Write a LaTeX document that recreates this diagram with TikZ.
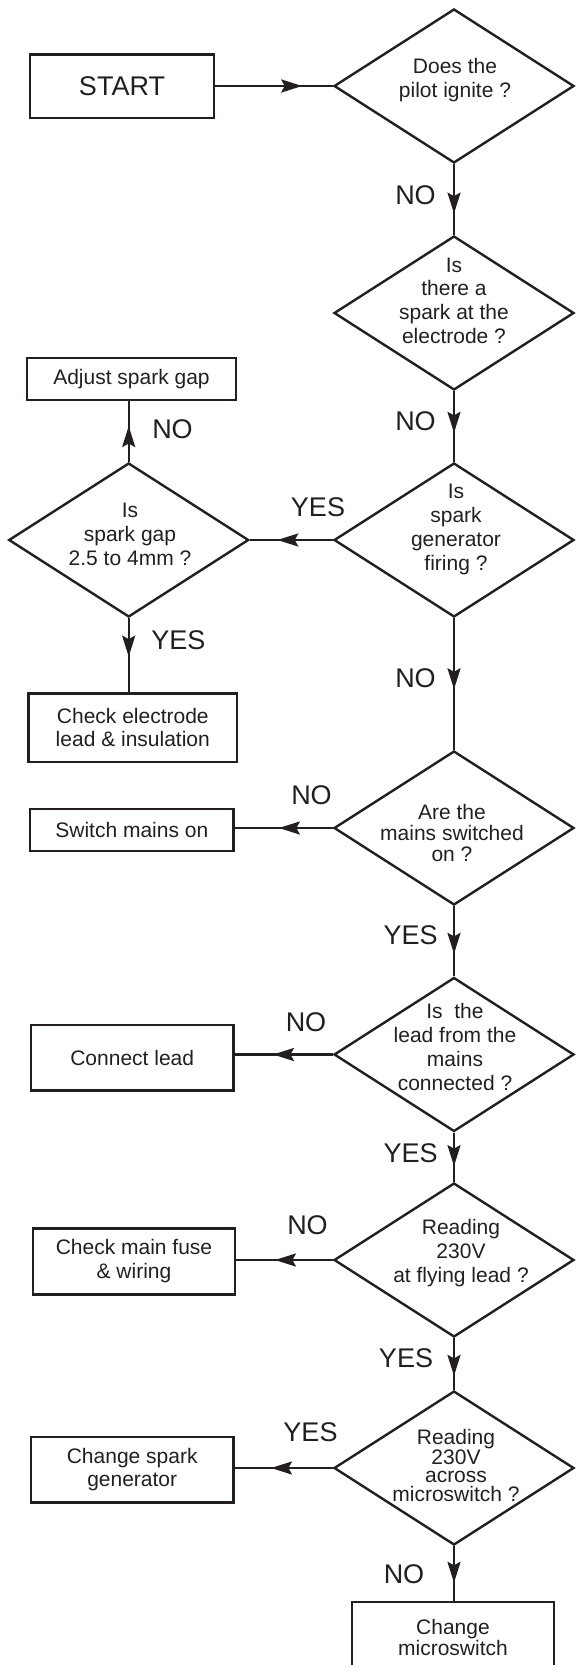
\documentclass[tikz,border=0pt]{standalone}
\usepackage{fontspec}
\setmainfont{Liberation Sans}
\usetikzlibrary{shapes.geometric,arrows.meta,decorations.markings}
\definecolor{ink}{HTML}{231F20}
\begin{document}
\begin{tikzpicture}[x=1pt,y=-1pt,line width=2.4pt,color=ink,
  box/.style={draw,rectangle,inner sep=0pt,align=center,font=\fontsize{21}{23.7}\selectfont},
  dia/.style={draw,diamond,minimum width=240pt,minimum height=154pt,inner sep=0pt},
  qtext/.style={inner sep=0pt,align=center,font=\fontsize{21}{#1}\selectfont},
  qtext/.default=23.7,
  lbl/.style={inner sep=0pt,font=\fontsize{27}{30}\selectfont},
  midarr/.style={postaction={decorate},decoration={markings,
     mark=at position #1 with {\arrow{Stealth[length=21pt,width=13pt,inset=3.5pt]}}}}]
\useasboundingbox (0,0) rectangle (576,1665);

% boxes
\node[box,minimum width=184pt,minimum height=63.4pt,font=\fontsize{27}{30}\selectfont] (start) at (122,86) {START};
\node[box,minimum width=209pt,minimum height=42pt] (adjust) at (131.5,379) {Adjust spark gap};
\node[box,minimum width=208.3pt,minimum height=68.4pt] (check) at (132.8,727.5) {Check electrode\\lead \& insulation};
\node[box,minimum width=203.5pt,minimum height=41.7pt] (sw) at (131.8,830) {Switch mains on};
\node[box,minimum width=202.5pt,minimum height=65.7pt] (conn) at (132.2,1057.8) {Connect lead};
\node[box,minimum width=202.3pt,minimum height=66pt] (fuse) at (134,1261.3) {Check main fuse\\\& wiring};
\node[box,minimum width=202.5pt,minimum height=65.6pt] (gen) at (132.2,1469.5) {Change spark\\generator};
\node[box,minimum width=202pt,minimum height=70pt,font=\fontsize{21}{21}\selectfont] (micro) at (453,1637) {Change\\microswitch};

% diamonds
\node[dia] (d1) at (454,86) {};
\node[dia] (d2) at (454,313) {};
\node[dia] (d3) at (454,540) {};
\node[dia] (d4) at (128.7,540) {};
\node[dia] (d5) at (454,828) {};
\node[dia] (d6) at (454,1054.5) {};
\node[dia] (d7) at (454,1260) {};
\node[dia] (d8) at (454,1468) {};

% diamond texts
\node[qtext] (t1) at (455,80) {Does the\\pilot ignite ?};
\node[qtext] (t2) at (454,300.5) {Is\\there a\\spark at the\\electrode ?};
\node[qtext=24] (t3) at (456,529) {Is\\spark\\generator\\firing ?};
\node[qtext=24] (t4) at (130,534) {Is\\spark gap\\2.5 to 4mm ?};
\node[qtext=21] (t5) at (452,832.6) {Are the\\mains switched\\on ?};
\node[qtext=24.2] (t6) at (455,1047) {Is\ \ the\\lead from the\\mains\\connected ?};
\node[qtext=24] (t7) at (461,1253) {Reading\\230V\\at flying lead ?};
\node[qtext=18.5] (t8) at (456,1465) {Reading\\230V\\across\\microswitch ?};

% connectors
\draw[midarr=0.74] (start.east) -- (d1.west);
\draw[midarr=0.70] (d1.south) -- (d2.north);
\draw[midarr=0.59] (d2.south) -- (d3.north);
\draw[midarr=0.67] (d3.west) -- (d4.east);
\draw[midarr=0.59] (d4.north) -- (d4.north |- adjust.south);
\draw[midarr=0.52] (d4.south) -- (d4.south |- check.north);
\draw[midarr=0.54] (d3.south) -- (d5.north);
\draw[midarr=0.55] (d5.west) -- (d5.west -| sw.east);
\draw[midarr=0.68] (d5.south) -- (d6.north);
\draw[midarr=0.61] (d6.west) -- (d6.west -| conn.east);
\draw[midarr=0.68] (d6.south) -- (d7.north);
\draw[midarr=0.60] (d7.west) -- (d7.west -| fuse.east);
\draw[midarr=0.73] (d7.south) -- (d8.north);
\draw[midarr=0.63] (d8.west) -- (d8.west -| gen.east);
\draw[midarr=0.67] (d8.south) -- (d8.south |- micro.north);

% labels
\node[lbl] (l1) at (415.5,195) {NO};
\node[lbl] (l2) at (415.5,421) {NO};
\node[lbl] (l3) at (172.5,429) {NO};
\node[lbl] (l4) at (318,506.7) {YES};
\node[lbl] (l5) at (178.3,640) {YES};
\node[lbl] (l6) at (415.5,678.3) {NO};
\node[lbl] (l7) at (311.5,795) {NO};
\node[lbl] (l8) at (410.7,935) {YES};
\node[lbl] (l9) at (306,1021.7) {NO};
\node[lbl] (l10) at (410.7,1153.3) {YES};
\node[lbl] (l11) at (307.5,1225) {NO};
\node[lbl] (l12) at (406,1358.3) {YES};
\node[lbl] (l13) at (310.5,1431.7) {YES};
\node[lbl] (l14) at (404,1574) {NO};
\end{tikzpicture}
\end{document}
